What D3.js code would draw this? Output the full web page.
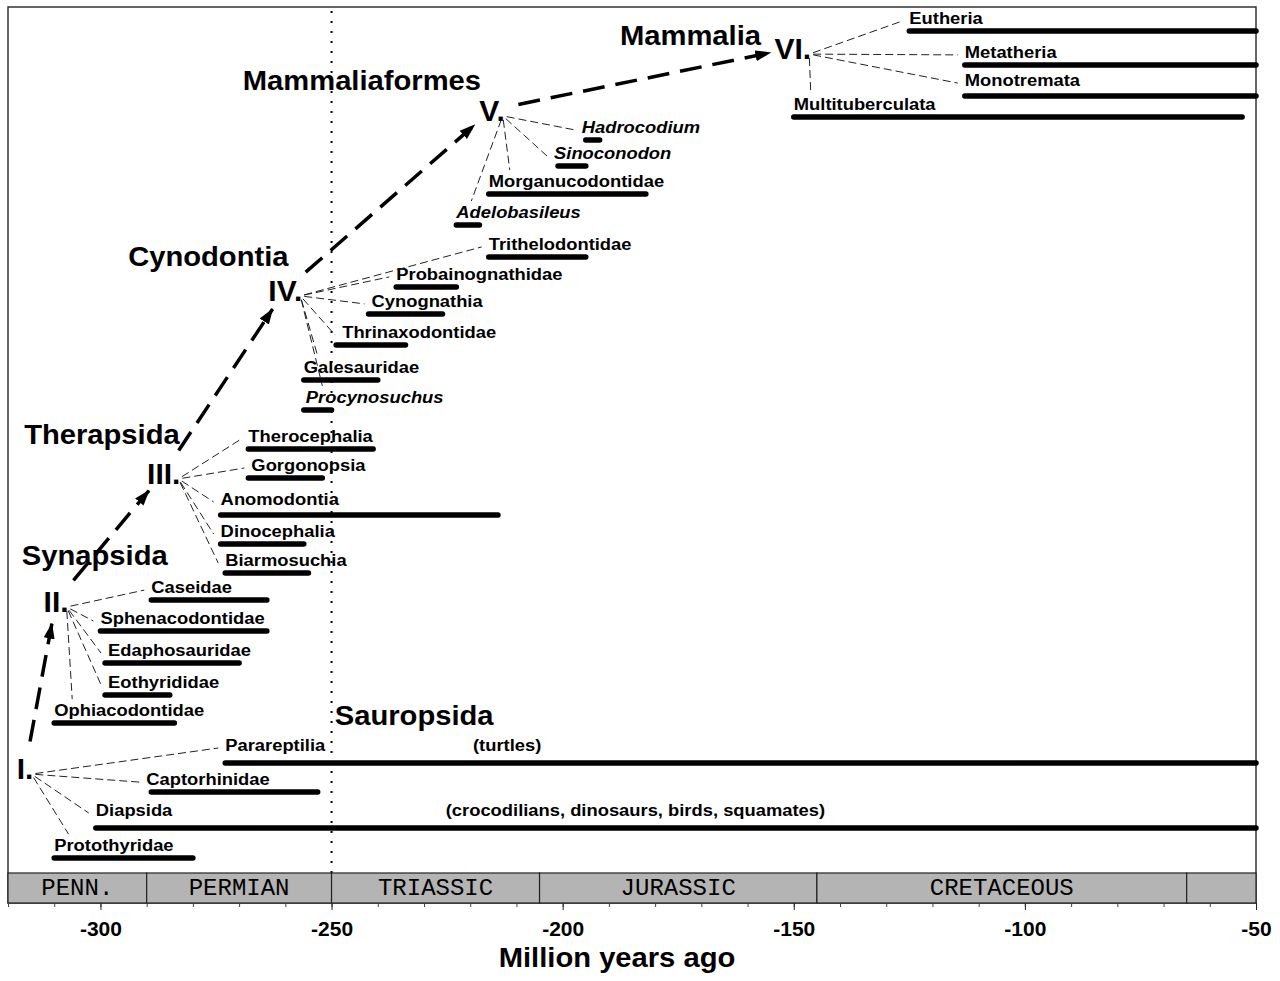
<!DOCTYPE html>
<html>
<head>
<meta charset="utf-8">
<script src="https://cdn.jsdelivr.net/npm/d3@7"></script>
<style>
  body { margin: 0; background: #fff; }
  svg text { font-family: "Liberation Sans", Arial, sans-serif; font-weight: bold; fill: #000; }
  svg text.period { font-family: "Liberation Mono", "Courier New", monospace; font-weight: normal; }
</style>
</head>
<body>
<div id="viz"></div>
<script>
// taxa, first / last appearance (Ma, negative) and their row in the diagram
var taxa = ["Eutheria", "Metatheria", "Monotremata", "Multituberculata",
  "Hadrocodium", "Sinoconodon", "Morganucodontidae", "Adelobasileus",
  "Trithelodontidae", "Probainognathidae", "Cynognathia", "Thrinaxodontidae", "Galesauridae", "Procynosuchus",
  "Therocephalia", "Gorgonopsia", "Anomodontia", "Dinocephalia", "Biarmosuchia",
  "Caseidae", "Sphenacodontidae", "Edaphosauridae", "Eothyrididae", "Ophiacodontidae",
  "Parareptilia", "Captorhinidae", "Diapsida", "Protothyridae"];
var firstMa = [-125, -113, -113, -150,
  -195, -201, -216, -223,
  -216, -236, -242, -249, -256, -256,
  -268, -268, -274, -274, -273,
  -289, -300, -299, -299, -310,
  -273, -289, -301, -310];
var lastMa = [-50, -50, -50, -53,
  -192, -195, -182, -218,
  -195, -223, -226, -234, -240, -250,
  -241, -252, -214, -256, -255,
  -264, -264, -270, -285, -284,
  -50, -253, -50, -280];
var rowPos = [0, 1.13, 2.17, 2.87,
  3.63, 4.5, 5.43, 6.47,
  7.53, 8.53, 9.43, 10.47, 11.63, 12.63,
  13.93, 14.9, 16.13, 17.1, 18.07,
  18.97, 20, 21.07, 22.13, 23.07,
  24.4, 25.37, 26.57, 27.57];
var nodeOf = [5, 5, 5, 5,
  4, 4, 4, 4,
  3, 3, 3, 3, 3, 3,
  2, 2, 2, 2, 2,
  1, 1, 1, 1, 1,
  0, 0, 0, 0];
var italicTaxa = ["Hadrocodium", "Sinoconodon", "Adelobasileus", "Procynosuchus"];

// branching nodes
var nodeNames = ["I.", "II.", "III.", "IV.", "V.", "VI."];
var nodeMa = [-316.3, -309.6, -286.3, -260, -215.3, -150.2];
var nodeRow = [24.57, 19, 14.73, 8.63, 2.63, 0.57];

// clade names
var cladeNames = ["Synapsida", "Therapsida", "Cynodontia", "Mammaliaformes", "Mammalia", "Sauropsida"];
var cladeMa = [-317, -316.5, -294, -269.2, -187.6, -249.3];
var cladeRow = [17.8, 13.77, 7.83, 1.97, 0.47, 23.13];

// notes on the long sauropsid lines
var noteText = ["(turtles)", "(crocodilians, dinosaurs, birds, squamates)"];
var noteMa = [-219.4, -225.3];
var noteTaxon = ["Parareptilia", "Diapsida"];

// geological periods
var periodNames = ["PENN.", "PERMIAN", "TRIASSIC", "JURASSIC", "CRETACEOUS", ""];
var periodStart = [-320, -290, -250, -205, -145, -65];
var periodEnd = [-290, -250, -205, -145, -65, -50];

var majorTicks = [-300, -250, -200, -150, -100, -50];
var minorTicks = d3.range(-320, -49, 10);

// small layout nudges for labels
var labelShift = { Hadrocodium: -4, Sinoconodon: -4, Captorhinidae: -5, Thrinaxodontidae: 6,
  Gorgonopsia: 3, Cynognathia: 3, Edaphosauridae: 3, Eothyrididae: 3, Procynosuchus: 2 };
var labelLift = { Parareptilia: 12, Diapsida: 12, Anomodontia: 10, Monotremata: 10 };
var SX = 1.08; // horizontal stretch of the sans text

var W = 1280, H = 981;
var frameTop = 7, bandTop = 873, bandBottom = 903;

var x = d3.scaleLinear().domain([-320, -50]).range([8, 1256]);
var y = d3.scaleLinear().domain([0, 30]).range([31, 931]);

var svg = d3.select("#viz").append("svg")
  .attr("width", W).attr("height", H);

var defs = svg.append("defs");
defs.append("marker")
  .attr("id", "arrow")
  .attr("viewBox", "0 0 16 12")
  .attr("refX", 15).attr("refY", 6)
  .attr("markerUnits", "userSpaceOnUse")
  .attr("markerWidth", 16).attr("markerHeight", 12)
  .attr("orient", "auto")
  .append("path").attr("d", "M0,0.5 L16,6 L0,11.5 Z").attr("fill", "#000");

function stext(parent, px, py, str, size, anchor) {
  return parent.append("text")
    .attr("transform", "translate(" + px + "," + py + ") scale(" + SX + ",1)")
    .attr("font-size", size)
    .attr("text-anchor", anchor || "start")
    .text(str);
}

// frame
svg.append("rect")
  .attr("x", x(-320)).attr("y", frameTop)
  .attr("width", x(-50) - x(-320)).attr("height", bandBottom - frameTop)
  .attr("fill", "none").attr("stroke", "#333").attr("stroke-width", 1.5);

// dotted Permian/Triassic line
svg.append("line")
  .attr("x1", x(-250)).attr("x2", x(-250))
  .attr("y1", frameTop + 4).attr("y2", bandTop)
  .attr("stroke", "#000").attr("stroke-width", 2)
  .attr("stroke-dasharray", "2,8");

// period band
var band = svg.append("g");
band.selectAll("rect").data(periodNames).join("rect")
  .attr("x", function (d, i) { return x(periodStart[i]); })
  .attr("y", bandTop)
  .attr("width", function (d, i) { return x(periodEnd[i]) - x(periodStart[i]); })
  .attr("height", bandBottom - bandTop)
  .attr("fill", "#b4b4b4").attr("stroke", "#222").attr("stroke-width", 1.2);
band.selectAll("text").data(periodNames).join("text")
  .attr("class", "period")
  .attr("x", function (d, i) { return (x(periodStart[i]) + x(periodEnd[i])) / 2; })
  .attr("y", bandTop + 22)
  .attr("text-anchor", "middle")
  .attr("font-size", 24)
  .text(function (d) { return d; });

// axes
var minorAxis = svg.append("g")
  .attr("transform", "translate(0," + bandBottom + ")")
  .call(d3.axisBottom(x).tickValues(minorTicks).tickSize(4).tickFormat(""));
minorAxis.select(".domain").remove();
var majorAxis = svg.append("g")
  .attr("transform", "translate(0," + bandBottom + ")")
  .call(d3.axisBottom(x).tickValues(majorTicks).tickSize(7).tickPadding(11)
    .tickFormat(function (d) { return d3.format("d")(d).replace("\u2212", "-"); }));
majorAxis.select(".domain").remove();
majorAxis.selectAll("line").attr("stroke", "#222");
minorAxis.selectAll("line").attr("stroke", "#444");
majorAxis.selectAll("text").attr("font-size", 21).attr("fill", "#000");

stext(svg, 617, 967, "Million years ago", 27, "middle");

// nodes
var nodes = svg.append("g");
var nodePts = nodeNames.map(function (n, i) {
  var t = nodes.append("text")
    .attr("x", x(nodeMa[i])).attr("y", y(nodeRow[i]) + 11)
    .attr("text-anchor", "middle")
    .attr("font-size", 30)
    .text(n);
  var w = t.node().getComputedTextLength();
  return { cx: x(nodeMa[i]), cy: y(nodeRow[i]),
    ax: x(nodeMa[i]) + w / 2 - 2, ay: y(nodeRow[i]) + 6 };
});

// arrows between consecutive nodes
var arrows = svg.append("g");
d3.range(nodePts.length - 1).forEach(function (i) {
  var a = nodePts[i], b = nodePts[i + 1];
  var dx = b.cx - a.cx, dy = b.cy - a.cy, len = Math.sqrt(dx * dx + dy * dy);
  var ux = dx / len, uy = dy / len;
  arrows.append("line")
    .attr("x1", a.cx + ux * 27).attr("y1", a.cy + uy * 27)
    .attr("x2", b.cx - ux * 23).attr("y2", b.cy - uy * 23)
    .attr("stroke", "#000").attr("stroke-width", 3.5)
    .attr("stroke-dasharray", "22,11")
    .attr("marker-end", "url(#arrow)");
});

// clade names
var clades = svg.append("g");
cladeNames.forEach(function (c, i) {
  stext(clades, x(cladeMa[i]), y(cladeRow[i]), c, 27);
});

// taxa: bars, labels, connectors
var bars = svg.append("g");
var labels = svg.append("g");
var links = svg.append("g");
var baselineOf = {};
taxa.forEach(function (name, i) {
  var by = y(rowPos[i]);
  bars.append("line")
    .attr("x1", x(firstMa[i])).attr("x2", x(lastMa[i]))
    .attr("y1", by).attr("y2", by)
    .attr("stroke", "#000").attr("stroke-width", 5.5)
    .attr("stroke-linecap", "round");

  var lx = x(firstMa[i]) + (labelShift[name] || 0);
  var base = by - (labelLift[name] || 7);
  baselineOf[name] = base;
  var t = stext(labels, lx, base, name, 17);
  if (italicTaxa.indexOf(name) >= 0) t.attr("font-style", "italic");
  var lw = t.node().getComputedTextLength() * SX;

  var p = nodePts[nodeOf[i]];
  var ex, ey;
  if (lx - 8 > p.ax + 15) {
    ex = lx - 7; ey = base - 3;
  } else {
    ex = lx + 0.12 * lw; ey = base - 17;
  }
  var dx = ex - p.ax, dy = ey - p.ay, len = Math.sqrt(dx * dx + dy * dy);
  links.append("line")
    .attr("x1", p.ax + dx / len * 4).attr("y1", p.ay + dy / len * 4)
    .attr("x2", ex).attr("y2", ey)
    .attr("stroke", "#222").attr("stroke-width", 1)
    .attr("stroke-dasharray", "8,4");
});

// notes
noteText.forEach(function (n, i) {
  stext(labels, x(noteMa[i]), baselineOf[noteTaxon[i]], n, 17);
});
</script>
</body>
</html>
